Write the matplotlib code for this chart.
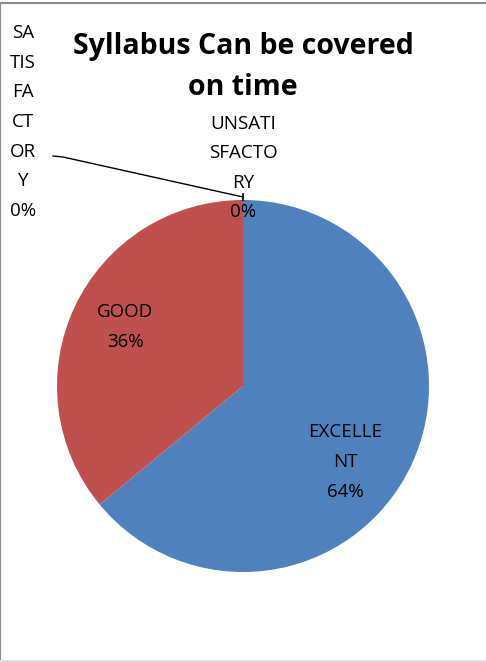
import matplotlib
matplotlib.use("Agg")
from matplotlib import pyplot as plt
from matplotlib.lines import Line2D

categories = ["EXCELLENT", "GOOD", "SATISFACTORY", "UNSATISFACTORY"]
percents = [64, 36, 0, 0]
colors = ["#4F81BD", "#C0504D", "#9BBB59", "#8064A2"]
label_texts = ["EXCELLE\nNT\n64%", "GOOD\n36%", "SA\nTIS\nFA\nCT\nOR\nY\n0%", "UNSATI\nSFACTO\nRY\n0%"]

plt.rcParams["font.family"] = ["Open Sans", "DejaVu Sans"]

W, H = 486, 662
fig = plt.figure(figsize=(W / 100, H / 100), dpi=100)

# pie centre at (243, 386) px from top-left, radius 186 px
cx, cy, r = 243, 386, 186
ax = fig.add_axes([(cx - r) / W, (H - cy - r) / H, 2 * r / W, 2 * r / H])
ax.pie(percents, colors=colors, startangle=90, counterclock=False, radius=1,
       wedgeprops=dict(linewidth=0))
ax.set_xlim(-1, 1)
ax.set_ylim(-1, 1)
ax.set_aspect("equal")
ax.axis("off")


def px(x, y):
    return (x - cx) / r, (cy - y) / r


label_pos = [px(345, 462), px(125, 327), px(23, 122), px(243, 168)]
for txt, (x, y) in zip(label_texts, label_pos):
    ax.text(x, y, txt, ha="center", va="center", fontsize=13.5, linespacing=1.83,
            clip_on=False)

# leader line for the satisfactory label
lx, ly = zip(px(53, 156), px(63, 157), px(243, 197))
ax.add_line(Line2D(lx, ly, color="black", lw=1, clip_on=False))
tx, ty = zip(px(243, 194), px(243, 200))
ax.add_line(Line2D(tx, ty, color="black", lw=1.2, clip_on=False))

fig.text(243 / W, 1 - 67 / H, "Syllabus Can be covered\non time", ha="center",
         va="center", fontsize=20.5, fontweight="bold", linespacing=1.55)

# chart border
fig.add_artist(Line2D([0.001, 0.001], [0, 1 - 3 / H], color="#8c8c8c", lw=1.5))
fig.add_artist(Line2D([0, 1], [1 - 3 / H, 1 - 3 / H], color="#8c8c8c", lw=1.5))
fig.add_artist(Line2D([0, 1], [1.5 / H, 1.5 / H], color="#e0e0e0", lw=1.5))

fig.savefig("out.png", dpi=100)
